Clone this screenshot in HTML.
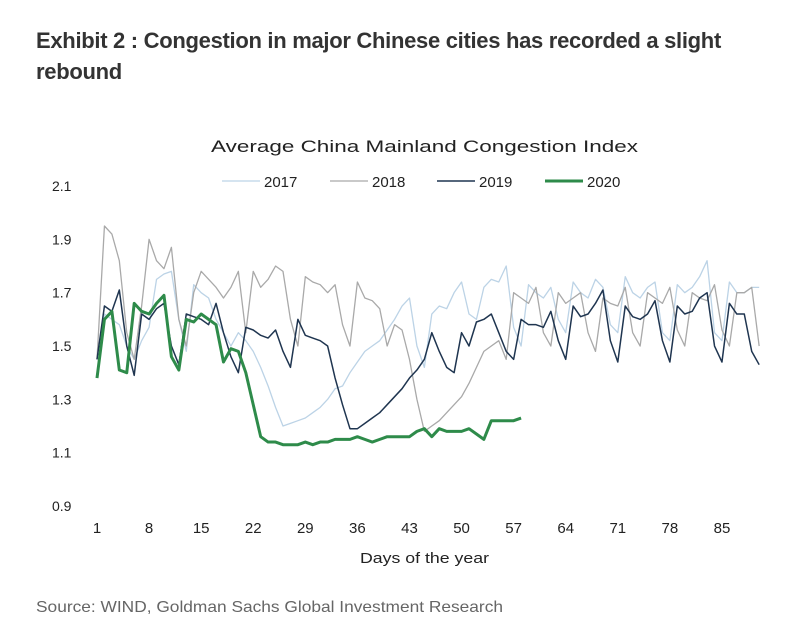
<!DOCTYPE html>
<html><head><meta charset="utf-8"><style>
body{margin:0;background:#fff;width:800px;height:636px;overflow:hidden;font-family:"Liberation Sans",sans-serif}
#title{position:absolute;left:36px;top:25px;font-size:22px;font-weight:bold;color:#333;line-height:31px;white-space:nowrap;letter-spacing:-0.3px}
svg{position:absolute;left:0;top:0}
</style></head><body>
<div id="title">Exhibit 2 : Congestion in major Chinese cities has recorded a slight<br>rebound</div>
<svg id="chart" width="800" height="636">
<text x="211" y="152" font-size="17" textLength="427" lengthAdjust="spacingAndGlyphs" fill="#222">Average China Mainland  Congestion Index</text>
<text x="360" y="563" font-size="15" textLength="129" lengthAdjust="spacingAndGlyphs" fill="#222">Days of the year</text>
<text x="36" y="612" font-size="16" textLength="467" lengthAdjust="spacingAndGlyphs" fill="#666">Source: WIND, Goldman Sachs Global Investment Research</text>
<g id="legend"></g>
<g id="axes"></g>
<g id="series"></g>
</svg>
<script>
const yTicks=[0.9,1.1,1.3,1.5,1.7,1.9,2.1];
const xTicks=[1,8,15,22,29,36,43,50,57,64,71,78,85];
const years=["2017","2018","2019","2020"];
const s2017=[1.45,1.62,1.60,1.58,1.50,1.45,1.52,1.57,1.75,1.77,1.78,1.60,1.48,1.73,1.70,1.68,1.60,1.55,1.50,1.55,1.52,1.48,1.42,1.35,1.27,1.20,1.21,1.22,1.23,1.25,1.27,1.30,1.34,1.35,1.40,1.44,1.48,1.50,1.52,1.56,1.60,1.65,1.68,1.50,1.42,1.62,1.65,1.64,1.70,1.74,1.62,1.60,1.72,1.75,1.74,1.80,1.57,1.50,1.73,1.70,1.68,1.72,1.60,1.55,1.74,1.70,1.68,1.75,1.72,1.58,1.55,1.76,1.70,1.68,1.72,1.74,1.55,1.52,1.73,1.70,1.72,1.76,1.82,1.55,1.52,1.74,1.70,1.70,1.72,1.72];
const s2018=[1.45,1.95,1.92,1.82,1.55,1.45,1.65,1.90,1.82,1.79,1.87,1.60,1.50,1.70,1.78,1.75,1.72,1.68,1.72,1.78,1.55,1.78,1.72,1.75,1.80,1.78,1.60,1.50,1.76,1.74,1.73,1.70,1.73,1.58,1.50,1.74,1.68,1.67,1.64,1.50,1.58,1.56,1.45,1.30,1.18,1.20,1.22,1.25,1.28,1.31,1.36,1.42,1.48,1.50,1.52,1.45,1.70,1.68,1.66,1.72,1.55,1.50,1.70,1.66,1.68,1.70,1.55,1.48,1.68,1.66,1.65,1.72,1.55,1.50,1.70,1.68,1.66,1.72,1.56,1.50,1.70,1.68,1.67,1.73,1.56,1.50,1.70,1.70,1.72,1.50];
const s2019=[1.45,1.65,1.63,1.71,1.50,1.39,1.62,1.60,1.64,1.66,1.50,1.43,1.62,1.61,1.60,1.58,1.66,1.55,1.46,1.40,1.57,1.56,1.54,1.53,1.56,1.48,1.42,1.60,1.54,1.53,1.52,1.50,1.38,1.28,1.19,1.19,1.21,1.23,1.25,1.28,1.31,1.34,1.38,1.41,1.45,1.55,1.48,1.42,1.40,1.55,1.50,1.59,1.60,1.62,1.55,1.48,1.45,1.60,1.58,1.58,1.57,1.63,1.52,1.45,1.65,1.61,1.62,1.66,1.71,1.52,1.44,1.65,1.61,1.60,1.62,1.67,1.52,1.44,1.65,1.62,1.63,1.68,1.70,1.50,1.44,1.66,1.62,1.62,1.48,1.43];
const s2020=[1.38,1.60,1.63,1.41,1.40,1.66,1.63,1.62,1.66,1.69,1.46,1.41,1.60,1.59,1.62,1.60,1.58,1.44,1.49,1.48,1.40,1.28,1.16,1.14,1.14,1.13,1.13,1.13,1.14,1.13,1.14,1.14,1.15,1.15,1.15,1.16,1.15,1.14,1.15,1.16,1.16,1.16,1.16,1.18,1.19,1.16,1.19,1.18,1.18,1.18,1.19,1.17,1.15,1.22,1.22,1.22,1.22,1.23];
const colors=["#bcd3e6","#a9a9a9","#1f3550","#2e8b4a"];
const widths=[1.3,1.3,1.5,3];
const NS="http://www.w3.org/2000/svg";
function X(d){return 97+(d-1)*7.44;}
function Y(v){return 186+(2.1-v)*266.7;}
const axes=document.getElementById('axes');
yTicks.forEach(t=>{const e=document.createElementNS(NS,'text');e.setAttribute('x',52);e.setAttribute('y',Y(t)+5);e.setAttribute('font-size','14');e.setAttribute('fill','#222');e.textContent=t.toFixed(1);


axes.appendChild(e);});
xTicks.forEach(t=>{const e=document.createElementNS(NS,'text');e.setAttribute('x',X(t));e.setAttribute('y',533);e.setAttribute('font-size','15');e.setAttribute('fill','#222');e.setAttribute('text-anchor','middle');e.textContent=t;


axes.appendChild(e);});
const series=document.getElementById('series');
[s2017,s2018,s2019,s2020].forEach((s,i)=>{const p=document.createElementNS(NS,'polyline');
p.setAttribute('points',s.map((v,j)=>X(j+1)+','+Y(v)).join(' '));
p.setAttribute('fill','none');p.setAttribute('stroke',colors[i]);p.setAttribute('stroke-width',widths[i]);p.setAttribute('stroke-linejoin','round');


series.appendChild(p);});
const lg=document.getElementById('legend');
const lx=[222,330,437,545];
years.forEach((y,i)=>{const l=document.createElementNS(NS,'line');l.setAttribute('x1',lx[i]);l.setAttribute('x2',lx[i]+38);l.setAttribute('y1',181);l.setAttribute('y2',181);l.setAttribute('stroke',colors[i]);l.setAttribute('stroke-width',widths[i]);


lg.appendChild(l);
const t=document.createElementNS(NS,'text');t.setAttribute('x',lx[i]+42);t.setAttribute('y',187);t.setAttribute('font-size','15');t.setAttribute('fill','#222');t.textContent=y;


lg.appendChild(t);});
</script>
</body></html>
